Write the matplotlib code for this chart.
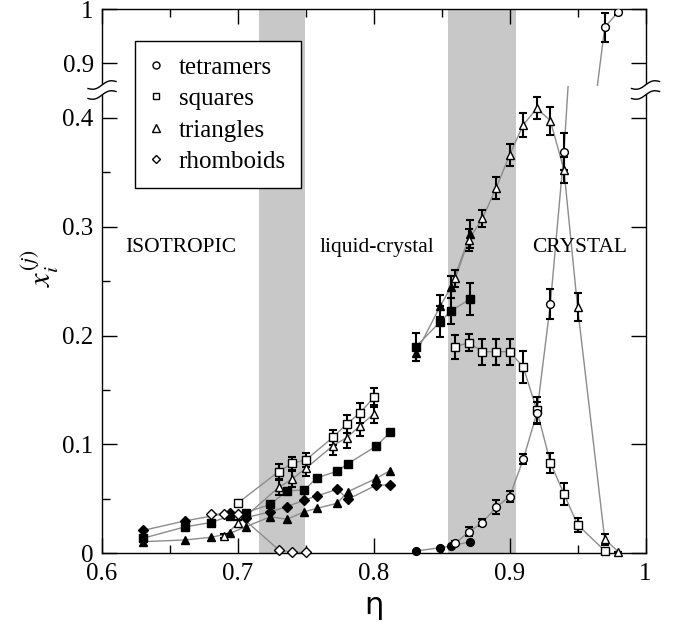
import numpy as np
import matplotlib
matplotlib.use('Agg')
import matplotlib.pyplot as plt
from matplotlib.lines import Line2D
from matplotlib.patches import Polygon

plt.rcParams['font.family'] = ['Liberation Serif', 'DejaVu Serif']
plt.rcParams['mathtext.fontset'] = 'stix'

# ---------------- data ----------------
# isotropic / liquid-crystal side, filled symbols
eta_fill_lo = [0.630, 0.661, 0.680, 0.694, 0.706, 0.724, 0.736, 0.749, 0.758, 0.773, 0.781, 0.802, 0.812]
sq_fill_lo = [0.0135, 0.024, 0.028, 0.034, 0.0372, 0.0448, 0.057, 0.058, 0.069, 0.0752, 0.0822, 0.0984, 0.111]
tri_fill_lo = [0.0104, 0.012, 0.0144, 0.018, 0.0242, 0.0334, 0.031, 0.038, 0.041, 0.0457, 0.0564, 0.0687, 0.0757]
eta_dia_fill = [0.630, 0.661, 0.694, 0.706, 0.724, 0.736, 0.749, 0.758, 0.773, 0.781, 0.802, 0.812]
dia_fill = [0.0207, 0.0295, 0.037, 0.0325, 0.038, 0.0426, 0.0487, 0.0524, 0.0586, 0.0494, 0.0625, 0.0625]

# open symbols, low density
eta_sq_open_lo = [0.70, 0.73, 0.74, 0.75, 0.77, 0.78, 0.79, 0.80]
sq_open_lo = [0.046, 0.0748, 0.0825, 0.0855, 0.1064, 0.1185, 0.129, 0.143]
sq_open_lo_err = [0.003, 0.007, 0.006, 0.006, 0.007, 0.008, 0.009, 0.009]
eta_tri_open_lo = [0.69, 0.70, 0.73, 0.74, 0.75, 0.77, 0.78, 0.79, 0.80]
tri_open_lo = [0.0156, 0.0273, 0.0604, 0.068, 0.0779, 0.0987, 0.106, 0.117, 0.128]
tri_open_lo_err = [0.002, 0.003, 0.007, 0.007, 0.007, 0.009, 0.009, 0.009, 0.008]
eta_dia_open = [0.68, 0.69, 0.70, 0.73, 0.74, 0.75]
dia_open = [0.0356, 0.0356, 0.036, 0.003, 0.0005, 0.0005]

# filled symbols, high density
eta_fill_hi = [0.831, 0.849, 0.857, 0.871]
sq_fill_hi = [0.1897, 0.2127, 0.2228, 0.2336]
sq_fill_hi_err = [0.013, 0.014, 0.012, 0.015]
tri_fill_hi = [0.1836, 0.2271, 0.2449, 0.2933]
tri_fill_hi_err = [0.007, 0.010, 0.010, 0.013]
circ_fill_hi = [0.0018, 0.0049, 0.0064, 0.0104]

# open symbols, high density
eta_circ_open = [0.86, 0.87, 0.88, 0.89, 0.90, 0.91, 0.92, 0.93, 0.94, 0.97, 0.98]
circ_open = [0.0089, 0.0196, 0.0279, 0.042, 0.0518, 0.0861, 0.1284, 0.229, 0.369, 0.966, 0.995]
circ_open_err = [0.002, 0.004, 0.003, 0.0065, 0.005, 0.0046, 0.010, 0.014, 0.017, 0.027, 0.007]
eta_sq_open_hi = [0.86, 0.87, 0.88, 0.89, 0.90, 0.91, 0.92, 0.93, 0.94, 0.95, 0.97]
sq_open_hi = [0.1897, 0.1934, 0.1851, 0.1851, 0.1851, 0.171, 0.1315, 0.083, 0.0543, 0.026, 0.0021]
sq_open_hi_err = [0.011, 0.008, 0.012, 0.012, 0.012, 0.015, 0.0115, 0.009, 0.010, 0.0066, 0.002]
eta_tri_open_hi = [0.86, 0.87, 0.88, 0.89, 0.90, 0.91, 0.92, 0.93, 0.94, 0.95, 0.97, 0.98]
tri_open_hi = [0.2526, 0.2881, 0.3077, 0.3353, 0.366, 0.3936, 0.4089, 0.3975, 0.3522, 0.226, 0.0126, 0.0012]
tri_open_hi_err = [0.008, 0.010, 0.008, 0.010, 0.010, 0.011, 0.010, 0.013, 0.012, 0.013, 0.005, 0.0]

bands = [(0.7155, 0.7494), (0.8546, 0.9047)]
legend_labels = ['tetramers', 'squares', 'triangles', 'rhomboids']
phase_labels = [('ISOTROPIC', 0.617), ('liquid-crystal', 0.7604), ('CRYSTAL', 0.9163)]

# ---------------- figure ----------------
W, H = 676, 629
fig = plt.figure(figsize=(W / 100, H / 100), dpi=100)
L, R = 102 / W, 645.5 / W
B, T = 1 - 553 / H, 1 - 9 / H
S = 1 - 86 / H
ax_lo = fig.add_axes([L, B, R - L, S - B])
ax_hi = fig.add_axes([L, S, R - L, T - S], sharex=ax_lo)

LINE = '#8c8c8c'
BAND = '#c8c8c8'
MS = {'s': 5.2, '^': 6.2, 'D': 4.8, 'o': 5.6}


def series(ax, x, y, marker, filled, err=None, clip=True):
    ax.plot(x, y, '-', color=LINE, lw=1.0, zorder=2)
    if err is not None:
        ax.errorbar(x, y, yerr=err, fmt='none', ecolor='black', elinewidth=1.5,
                    capsize=3.2, capthick=1.5, zorder=3)
    ax.plot(x, y, ls='none', marker=marker, ms=MS[marker], mec='black', mew=1.0,
            mfc='black' if filled else 'white', zorder=4, clip_on=clip)


def draw(ax, clip):
    for a, b in bands:
        ax.axvspan(a, b, color=BAND, lw=0, zorder=0)
    series(ax, eta_fill_lo, sq_fill_lo, 's', True, clip=clip)
    series(ax, eta_fill_lo, tri_fill_lo, '^', True, clip=clip)
    series(ax, eta_dia_fill, dia_fill, 'D', True, clip=clip)
    series(ax, eta_dia_open, dia_open, 'D', False, clip=clip)
    series(ax, eta_sq_open_lo, sq_open_lo, 's', False, sq_open_lo_err, clip)
    series(ax, eta_tri_open_lo, tri_open_lo, '^', False, tri_open_lo_err, clip)
    series(ax, eta_fill_hi, sq_fill_hi, 's', True, sq_fill_hi_err, clip)
    series(ax, eta_fill_hi, tri_fill_hi, '^', True, tri_fill_hi_err, clip)
    series(ax, eta_fill_hi, circ_fill_hi, 'o', True, clip=clip)
    series(ax, eta_sq_open_hi, sq_open_hi, 's', False, sq_open_hi_err, clip)
    series(ax, eta_tri_open_hi, tri_open_hi, '^', False, tri_open_hi_err, clip)
    series(ax, eta_circ_open, circ_open, 'o', False, circ_open_err, clip)


draw(ax_lo, False)
draw(ax_hi, True)

ax_lo.set_xlim(0.6, 1.0)
ax_lo.set_ylim(0, (553 - 86) / 1087.5)
ax_hi.set_ylim(0.9 - (86 - 63) / 540, 1.0)

ax_lo.spines['top'].set_visible(False)
ax_hi.spines['bottom'].set_visible(False)
for ax in (ax_lo, ax_hi):
    for sp in ax.spines.values():
        sp.set_linewidth(1.0)
    ax.tick_params(which='both', direction='in', width=1.0, labelsize=18, pad=6)
    ax.tick_params(which='major', length=10.5)
    ax.tick_params(which='minor', length=5.5)
    ax.tick_params(axis='y', left=True, right=True, labelright=False)

ax_lo.set_xticks([0.6, 0.7, 0.8, 0.9, 1.0])
ax_lo.set_xticklabels(['0.6', '0.7', '0.8', '0.9', '1'])
ax_lo.set_xticks(np.arange(0.65, 1.0, 0.1), minor=True)
ax_lo.tick_params(axis='x', top=False, bottom=True, which='both', pad=7.5)
ax_lo.set_yticks([0, 0.1, 0.2, 0.3, 0.4])
ax_lo.set_yticklabels(['0', '0.1', '0.2', '0.3', '0.4'])
ax_lo.set_yticks([0.05, 0.15, 0.25, 0.35], minor=True)

ax_hi.tick_params(axis='x', which='both', top=True, bottom=False, labelbottom=False)
ax_hi.set_yticks([0.9, 1.0])
ax_hi.set_yticklabels(['0.9', '1'])
ax_hi.set_yticks([], minor=True)

for ax in (ax_lo, ax_hi):
    for lbl in ax.get_xticklabels() + ax.get_yticklabels():
        lbl.set_family('Liberation Serif')

for text, x0 in phase_labels:
    ax_lo.text(x0, 0.277, text, fontsize=15.5, ha='left', va='baseline', zorder=5)

# axis labels
fig.text(374 / W, 1 - 606 / H, 'η', fontsize=22, family='DejaVu Sans',
         ha='center', va='center')
fig.text(40 / W, 1 - 268 / H, r'$x_i^{(j)}$', fontsize=22, rotation=90,
         ha='center', va='center')

# break marks on both spines
t = np.linspace(-1, 1, 40)
for xc in (102, 645.5):
    yc = H - 90
    up = yc + 5 + 3.5 * t + 2.2 * np.sin(np.pi * t)
    dn = yc - 5 + 3.5 * t + 2.2 * np.sin(np.pi * t)
    xs = xc + 14 * t
    poly = np.column_stack([np.r_[xs, xs[::-1]], np.r_[up, dn[::-1]]])
    poly[:, 0] /= W
    poly[:, 1] /= H
    fig.add_artist(Polygon(poly, closed=True, fc='white', ec='none',
                           transform=fig.transFigure, zorder=10))
    for yy in (up, dn):
        fig.add_artist(Line2D(xs / W, yy / H, color='black', lw=1.0,
                              transform=fig.transFigure, zorder=11))

# legend
handles = [Line2D([], [], ls='none', marker=m, ms=MS[m] * 0.9, mec='black',
                  mfc='white', mew=1.0) for m in ('o', 's', '^', 'D')]
leg = fig.legend(handles, legend_labels, loc='upper left',
                 bbox_to_anchor=(135 / W, 1 - 41 / H), bbox_transform=fig.transFigure,
                 fontsize=18, frameon=True, fancybox=False, edgecolor='black',
                 framealpha=1, borderpad=0.6, labelspacing=0.36, handlelength=0.5,
                 handletextpad=0.64, borderaxespad=0, numpoints=1)
leg.get_frame().set_linewidth(1.0)
leg.set_zorder(12)

fig.savefig('out.png', dpi=100)
